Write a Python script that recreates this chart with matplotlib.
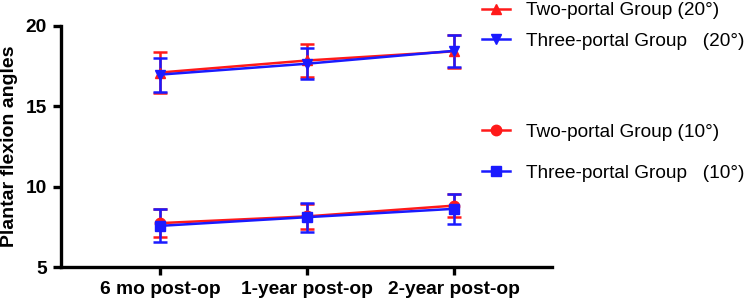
import matplotlib

matplotlib.use("Agg")
import matplotlib.pyplot as plt
from matplotlib.lines import Line2D

plt.rcParams["font.family"] = ["Liberation Sans", "Noto Sans CJK SC", "DejaVu Sans"]

timepoints = ["6 mo post-op", "1-year post-op", "2-year post-op"]

two_20_mean = [17.1, 17.85, 18.42]
two_20_err = [1.25, 1.05, 1.03]
three_20_mean = [16.97, 17.65, 18.45]
three_20_err = [1.05, 0.97, 1.0]

two_10_mean = [7.73, 8.15, 8.82]
two_10_err = [0.88, 0.8, 0.7]
three_10_mean = [7.56, 8.1, 8.62]
three_10_err = [1.02, 0.9, 0.93]

RED = "#ff1a1a"
BLUE = "#1a1aff"

fig = plt.figure(figsize=(7.5, 3.04), dpi=100)
ax = fig.add_axes([0.0813, 0.1217, 0.655, 0.793])
x = list(range(len(timepoints)))

common = dict(linewidth=1.8, elinewidth=1.8, capsize=5, capthick=1.8, markersize=7.5)
ax.errorbar(x, two_20_mean, yerr=two_20_err, color=RED, marker="^", **common)
ax.errorbar(x, three_20_mean, yerr=three_20_err, color=BLUE, marker="v", **common)
ax.errorbar(x, two_10_mean, yerr=two_10_err, color=RED, marker="o", **common)
ax.errorbar(x, three_10_mean, yerr=three_10_err, color=BLUE, marker="s", **common)

ax.set_xlim(-0.673, 2.667)
ax.set_ylim(5, 20)
ax.set_yticks([5, 10, 15, 20])
ax.set_xticks(x)
ax.set_xticklabels(timepoints)
ax.set_ylabel("Plantar flexion angles", fontsize=14, fontweight="bold", labelpad=6)
for lab in ax.get_xticklabels() + ax.get_yticklabels():
    lab.set_fontweight("bold")
    lab.set_fontsize(13.8)
ax.spines["top"].set_visible(False)
ax.spines["right"].set_visible(False)
for s in ["left", "bottom"]:
    ax.spines[s].set_linewidth(2.4)
ax.tick_params(axis="both", width=2.4, length=6, pad=4)


def handle(color, marker):
    return Line2D([], [], color=color, marker=marker, linewidth=1.8, markersize=7.5)


leg_kw = dict(loc="center left", frameon=False, fontsize=13.7, borderpad=0,
              borderaxespad=0, handlelength=1.45, handletextpad=0.85)
fig.legend([handle(RED, "^"), handle(BLUE, "v")],
           ["Two-portal Group (20°)", "Three-portal Group   (20°)"],
           bbox_to_anchor=(0.643, 0.9145), labelspacing=0.7, **leg_kw)
fig.legend([handle(RED, "o"), handle(BLUE, "s")],
           ["Two-portal Group (10°)", "Three-portal Group   (10°)"],
           bbox_to_anchor=(0.643, 0.497), labelspacing=1.24, **leg_kw)

fig.savefig("out.png", dpi=100)
plt.close(fig)
